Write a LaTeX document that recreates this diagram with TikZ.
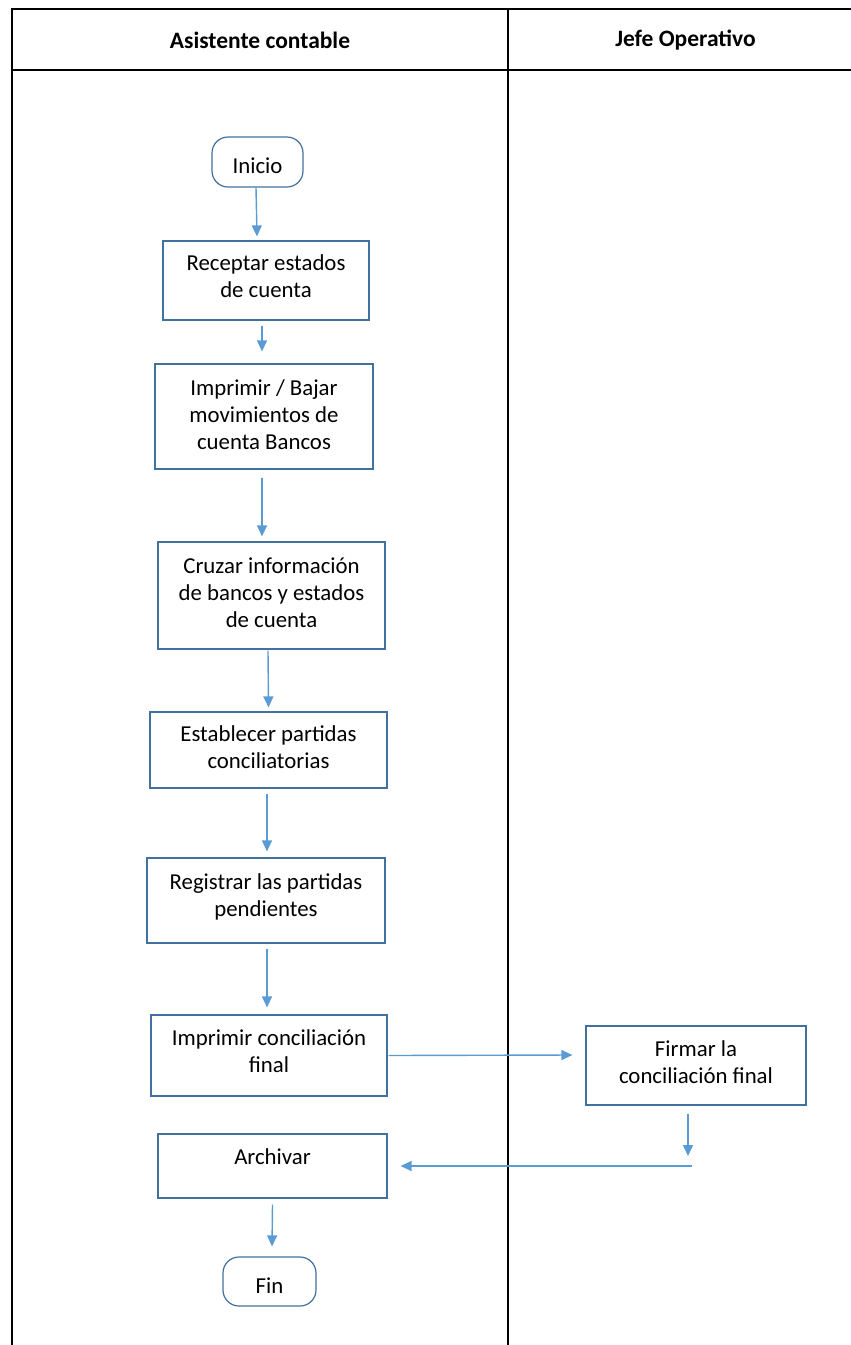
\documentclass[tikz,border=0pt]{standalone}
\usepackage{fontspec}
\setmainfont{Carlito}
\usetikzlibrary{arrows.meta}
\definecolor{boxblue}{HTML}{41719C}
\definecolor{arrblue}{HTML}{5B9BD5}
\newcommand\lift[2][4pt]{\raisebox{#1}[\height][\depth]{#2}}
\tikzset{
  stepbox/.style={draw=boxblue, line width=1.2pt, align=center, inner sep=0pt, font=\fontsize{22.8}{27}\selectfont},
  term/.style={stepbox, rounded corners=16pt},
  flow/.style={draw=arrblue, line width=1.4pt, -{Triangle[length=11pt,width=10pt]}},
  lane/.style={line width=2pt},
  head/.style={font=\fontsize{23.5}{28}\selectfont\bfseries}
}
\begin{document}
\begin{tikzpicture}[x=1pt,y=1pt]
\useasboundingbox (0,0) rectangle (851,-1345);
% lanes
\draw[lane] (12,-1345) -- (12,-9) -- (851,-9);
\draw[lane] (12,-70) -- (851,-70);
\draw[lane] (508,-9) -- (508,-1345);
\node[head] (hasist) at (260,-40) {Asistente contable};
\node[head] (hjefe) at (685.5,-40) {Jefe Operativo};
% steps
\node[term, minimum width=91pt, minimum height=50pt] (inicio) at (257.5,-162) {\lift[-4pt]{Inicio}};
\node[stepbox, minimum width=206pt, minimum height=79pt] (recep) at (266,-280.5) {\lift{Receptar estados}\\\lift{de cuenta}};
\node[stepbox, minimum width=218pt, minimum height=105pt] (bajar) at (264,-416.5) {\lift[2pt]{Imprimir / Bajar}\\\lift[2pt]{movimientos de}\\\lift[2pt]{cuenta Bancos}};
\node[stepbox, minimum width=227pt, minimum height=107pt] (cruzar) at (271.5,-595.5) {\lift[3pt]{Cruzar información}\\\lift[3pt]{de bancos y estados}\\\lift[3pt]{de cuenta}};
\node[stepbox, minimum width=237pt, minimum height=76pt] (estab) at (268.5,-750) {\lift[3pt]{Establecer partidas}\\\lift[3pt]{conciliatorias}};
\node[stepbox, minimum width=238pt, minimum height=85pt] (regis) at (266,-900.5) {\lift{Registrar las partidas}\\\lift{pendientes}};
\node[stepbox, minimum width=236pt, minimum height=81pt] (imprc) at (269,-1055.5) {\lift{Imprimir conciliación}\\\lift{final}};
\node[stepbox, minimum width=220pt, minimum height=79pt] (firmar) at (696,-1065.5) {\lift[3pt]{Firmar la}\\\lift[3pt]{conciliación final}};
\node[stepbox, minimum width=229pt, minimum height=64pt] (archivar) at (272.5,-1166) {\lift[9pt]{Archivar}};
\node[term, minimum width=93pt, minimum height=49pt] (fin) at (269.5,-1281.5) {\lift[-4pt]{Fin}};
\coordinate (ret) at (692,-1166);
% flow
\draw[flow] ([xshift=-1.5pt]inicio.south) -- ([xshift=-9pt,yshift=4pt]recep.north);
\draw[flow] ([xshift=-4pt,yshift=-5pt]recep.south) -- ([xshift=-2pt,yshift=12pt]bajar.north);
\draw[flow] ([xshift=-2pt,yshift=-8pt]bajar.south) -- ([xshift=-9.5pt,yshift=5pt]cruzar.north);
\draw[flow] ([xshift=-3.5pt,yshift=-1pt]cruzar.south) -- ([yshift=4pt]estab.north);
\draw[flow] ([xshift=-1.5pt,yshift=-5pt]estab.south) -- ([xshift=1pt,yshift=6pt]regis.north);
\draw[flow] ([xshift=1pt,yshift=-5pt]regis.south) -- ([xshift=-2pt,yshift=7pt]imprc.north);
\draw[flow] ([xshift=1pt]imprc.east) -- ([xshift=-13pt,yshift=10.5pt]firmar.west);
\draw[flow] ([xshift=-8pt,yshift=-8pt]firmar.south) -- ([xshift=-4pt,yshift=10pt]ret);
\draw[flow] (ret) -- ([xshift=13pt]archivar.east);
\draw[flow] ([yshift=-6pt]archivar.south) -- ([xshift=2.5pt,yshift=10pt]fin.north);
\end{tikzpicture}
\end{document}
